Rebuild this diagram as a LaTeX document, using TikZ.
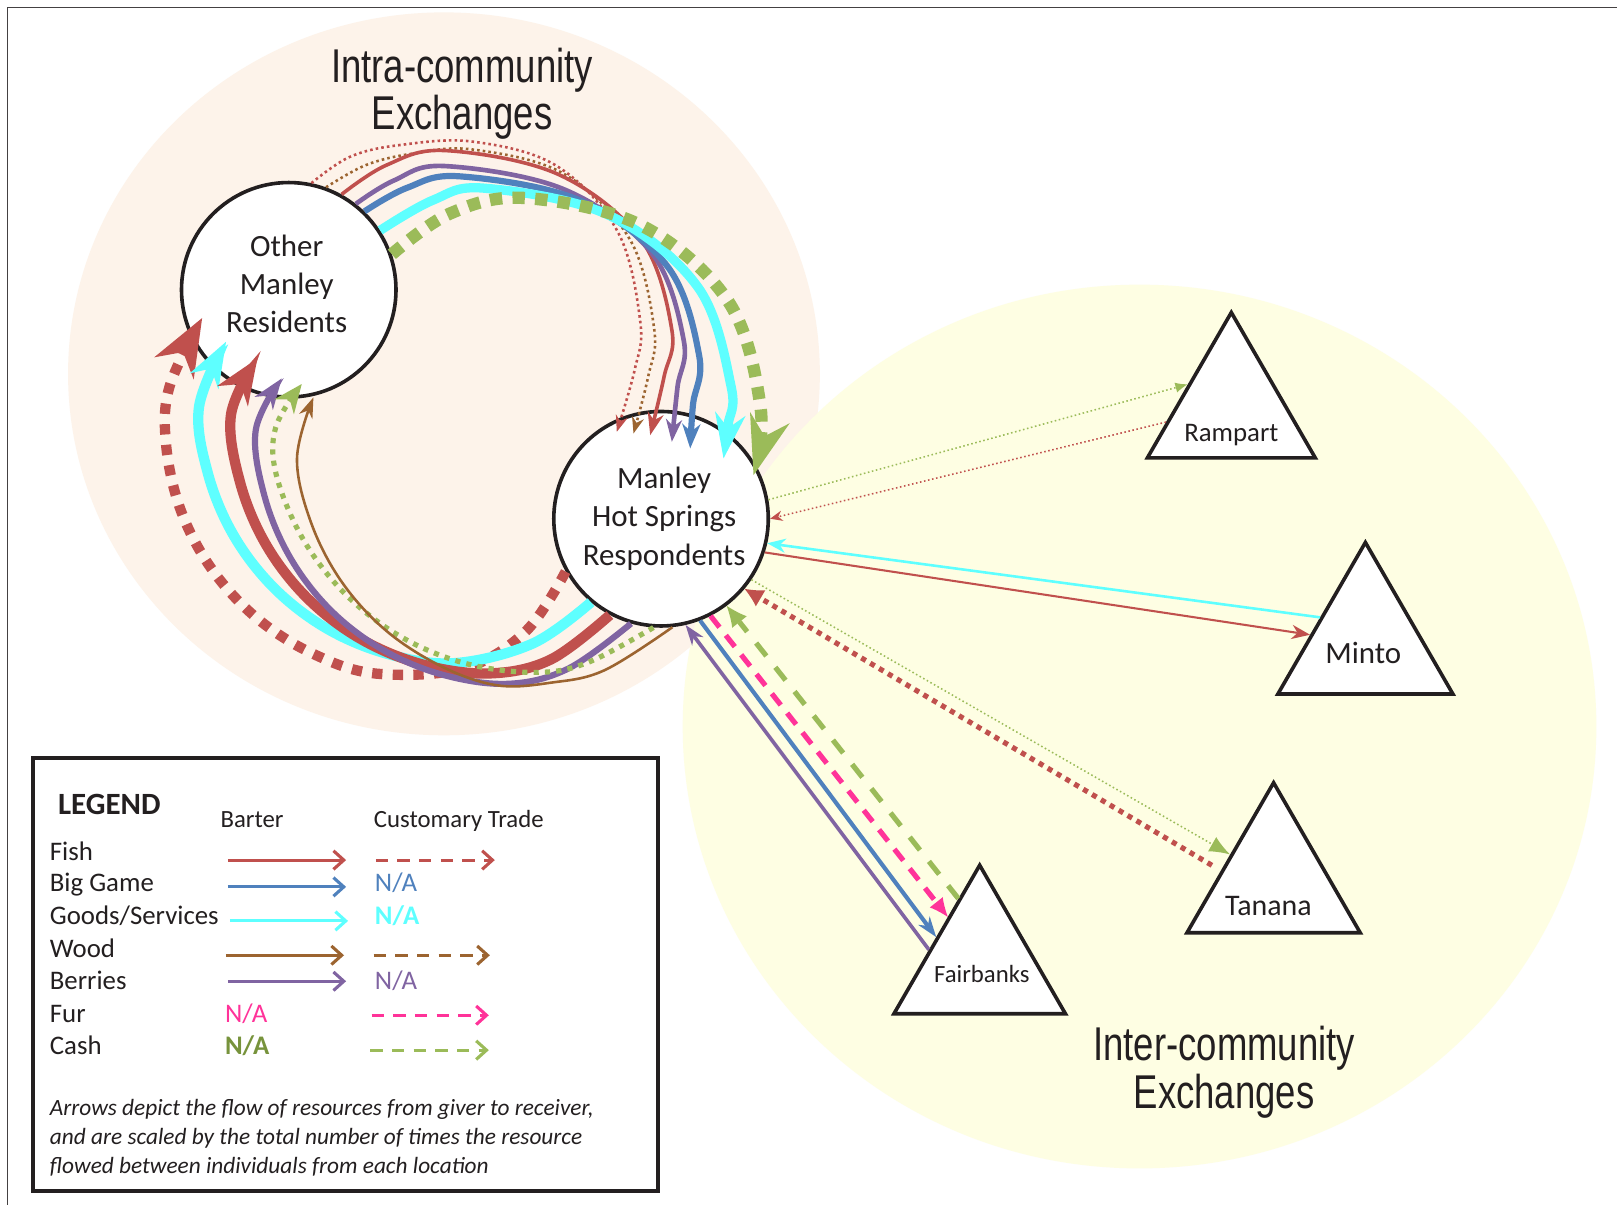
\documentclass[tikz,border=0pt]{standalone}
\usepackage{fontspec}
\usepackage{graphicx}
\setmainfont{Carlito}
\newfontfamily\titlefont{Liberation Sans}
\usetikzlibrary{arrows.meta,calc,shapes.geometric}
\definecolor{fishc}{HTML}{C0504D}
\definecolor{gamec}{HTML}{4F81BD}
\definecolor{goodc}{HTML}{5EFFFF}
\definecolor{woodc}{HTML}{9C6430}
\definecolor{berc}{HTML}{8064A2}
\definecolor{furc}{HTML}{FF3399}
\definecolor{cashc}{HTML}{9BBB59}
\definecolor{cashtxt}{HTML}{77933C}
\definecolor{peach}{HTML}{FDF3EA}
\definecolor{pyellow}{HTML}{FEFEE3}
\definecolor{ink}{HTML}{231F20}
\tikzset{
  place/.style={circle, draw=ink, line width=1.75pt, fill=white, minimum size=104pt, inner sep=0pt},
  ptext/.style={align=center, font=\fontsize{15}{18.5}\selectfont, text=ink, inner sep=0pt},
  tri/.style={regular polygon, regular polygon sides=3, draw=ink, line width=1.75pt, fill=white, inner sep=0pt},
  ttext/.style={text=ink, inner sep=0pt},
  ttl/.style={font=\titlefont\fontsize{23}{23}\selectfont, text=ink, inner sep=0pt, anchor=base},
  lab/.style={font=\fontsize{13}{13}\selectfont, text=ink, anchor=base west, inner sep=0pt},
  hdr/.style={font=\fontsize{12}{12}\selectfont, text=ink, anchor=base, inner sep=0pt},
  itl/.style={font=\itshape\fontsize{11.3}{11.3}\selectfont, text=ink, anchor=base west, inner sep=0pt},
  btr/.style={line width=1.5pt, -{Straight Barb[length=5pt,width=9pt]}},
  ctr/.style={btr, dash pattern=on 6pt off 4.5pt},
  fine/.style={line width=0.75pt, dash pattern=on 0.75pt off 1.25pt},
  arc/.style={smooth, tension=0.6},
}
\begin{document}
\begin{tikzpicture}[x=0.5pt,y=-0.5pt]
\useasboundingbox (0,0) rectangle (1568,1168);
\fill[white] (0,0) rectangle (1568,1168);
\draw[line width=0.6pt, ink!85] (7,1168) -- (7,7) -- (1568,7);
\fill[peach] (430.5,362.5) ellipse [x radius=182.25pt, y radius=175.25pt];
\fill[pyellow] (1105,704.5) ellipse [x radius=221.5pt, y radius=214.25pt];

\node[ttl] (intra1) at (448,80) {\scalebox{0.77}[1]{Intra-community}};
\node[ttl] (intra2) at (448,126) {\scalebox{0.77}[1]{Exchanges}};
\node[ttl] (inter1) at (1187,1028) {\scalebox{0.77}[1]{Inter-community}};
\node[ttl] (inter2) at (1187,1075) {\scalebox{0.77}[1]{Exchanges}};

\node[place] (omr) at (280,281) {};
\node[place] (mhs) at (641,503) {};
\node[ptext] (omrt) at (278,275) {Other\\Manley\\Residents};
\node[ptext] (mhst) at (644,503) {Manley\\Hot Springs\\Respondents};

\node[tri, minimum size=94pt] (ramp) at (1194,397) {};
\node[tri, minimum size=98pt] (minto) at (1324,624) {};
\node[tri, minimum size=97pt] (tanana) at (1235,856) {};
\node[tri, minimum size=96pt] (fair) at (950,935) {};
\node[ttext, font=\fontsize{13}{13}\selectfont] (rampt) at (1194,422) {Rampart};
\node[ttext, font=\fontsize{15}{15}\selectfont] (mintot) at (1322,633) {Minto};
\node[ttext, font=\fontsize{14.5}{14.5}\selectfont] (tanat) at (1230,879) {Tanana};
\node[ttext, font=\fontsize{12}{12}\selectfont] (fairt) at (952,944) {Fairbanks};

% end points of the curved arrows
\coordinate (u1e) at ($(mhs)+(-42.9,-84.3)$);
\coordinate (u2e) at ($(mhs)+(-26.7,-82.7)$);
\coordinate (u3e) at ($(mhs)+(-10.5,-81.1)$);
\coordinate (u4e) at ($(mhs)+(10.5,-74.6)$);
\coordinate (u5e) at ($(mhs)+(28.3,-68.2)$);
\coordinate (u6e) at ($(mhs)+(60.6,-58.5)$);
\coordinate (u7e) at ($(mhs)+(89.7,-42.3)$);
\coordinate (l1e) at ($(omr)+(-84,27.4)$);
\coordinate (l2e) at ($(omr)+(-60.8,50.4)$);
\coordinate (l3e) at ($(omr)+(-30.4,66.6)$);
\coordinate (l4e) at ($(omr)+(-6.8,86)$);
\coordinate (l5e) at ($(omr)+(12.6,91.4)$);
\coordinate (l6e) at ($(omr)+(23.9,104.4)$);

% upper arcs: Other Manley -> Manley Hot Springs
\draw[fishc, line width=1.25pt, dash pattern=on 1.25pt off 1.5pt, -{Stealth[length=8pt,width=6pt,line width=0pt]}]
  plot[arc] coordinates {(omr.78.7) (339.5,152) (388,140.6) (459,137.4) (540,161) (599.3,225.2) (621,313) (615.5,358.4) (u1e)};
\draw[woodc, line width=1.25pt, dash pattern=on 1.25pt off 1.5pt, -{Stealth[length=8pt,width=6pt,line width=0pt]}]
  plot[arc] coordinates {(omr.70.3) (355,160) (400,149) (458.5,145) (546.5,168.4) (611,232.5) (634.5,320) (628.5,365.3) (u2e)};
\draw[fishc, line width=1.75pt, -{Stealth[length=11pt,width=8pt,line width=0pt]}]
  plot[arc] coordinates {(omr.61.6) (375,160) (432,146) (541.8,169.3) (622.1,233) (651.5,320) (644,365) (u3e)};
\draw[berc, line width=2.25pt, -{Stealth[length=11pt,width=8pt,line width=0pt]}]
  plot[arc] coordinates {(omr.52.7) (382,175) (431,161) (547,183.6) (632,245.5) (663,330) (657,375) (u4e)};
\draw[gamec, line width=3pt, -{Stealth[length=12pt,width=9pt,line width=0pt]}]
  plot[arc] coordinates {(omr.46.2) (395,182) (446,171) (562,194.3) (647,258) (678,345) (672,392) (u5e)};
\draw[goodc, line width=4.5pt, -{Stealth[length=22pt,width=15pt,line width=0pt]}]
  plot[arc] coordinates {(omr.33.4) (420,194) (470,182.5) (589.5,208.3) (677,278.8) (709,375) (706,412) (u6e)};
\draw[cashc, line width=6pt, dash pattern=on 6pt off 5pt, -{Stealth[length=29pt,width=20pt,line width=0pt]}]
  plot[arc] coordinates {(omr.19.7) (436.5,207) (509,192) (623,219.2) (707,293.5) (737.5,395) (u7e)};

% lower arcs: Manley Hot Springs -> Other Manley
\draw[fishc, line width=5pt, dash pattern=on 5pt off 5pt, -{Stealth[length=28pt,width=22pt,line width=0pt]}]
  plot[arc] coordinates {(mhs.209.1) (510,612) (450,648) (364.9,653.2) (303.2,633.8) (248.6,599) (204.9,551.2) (174.9,493.8) (161,430.6) (164.4,374.8) (l1e)};
\draw[goodc, line width=5pt, -{Stealth[length=22pt,width=16pt,line width=0pt]}]
  plot[arc] coordinates {(mhs.230.4) (516.8,623.9) (441.6,643) (377.3,634.5) (317.3,609.7) (265.8,570.2) (226.3,518.7) (201.5,458.7) (193,394.4) (l2e)};
\draw[fishc, line width=5pt, -{Stealth[length=22pt,width=18pt,line width=0pt]}]
  plot[arc] coordinates {(mhs.242.3) (534.1,639.5) (475,653) (410,644.4) (349.5,619.4) (297.5,579.5) (257.6,527.5) (232.6,467) (224,402) (l3e)};
\draw[berc, line width=3pt, -{Stealth[length=15pt,width=11pt,line width=0pt]}]
  plot[arc] coordinates {(mhs.254.8) (551.5,648.1) (494,663) (430.3,654.6) (371,630) (320,591) (281,540) (256.4,480.7) (248,417) (l4e)};
\draw[cashc, line width=2.5pt, dash pattern=on 2.5pt off 3pt, -{Stealth[length=14pt,width=12pt,line width=0pt]}]
  plot[arc] coordinates {(mhs.266.5) (568.8,642.9) (518,652) (451,643.2) (388.5,617.3) (334.9,576.1) (293.7,522.5) (267.8,460) (267.4,414.3) (l5e)};
\draw[woodc, line width=1.25pt, -{Stealth[length=10pt,width=7pt,line width=0pt]}]
  plot[arc] coordinates {(mhs.276.6) (586,650) (534,662) (482.6,664.6) (429.6,646.9) (375.2,612.2) (331.7,564.7) (301.9,507.5) (288,444.5) (l6e)};

% inter-community arrows
\draw[cashc, fine, -{Latex[length=6pt,width=5pt]}] (mhs.10) -- (ramp.150.7);
\draw[fishc, fine, -{Stealth[length=6pt,width=5pt]}] (ramp.191.5) -- (mhs.0);
\draw[goodc, line width=1.25pt, -{Stealth[length=9pt,width=7pt,line width=0pt]}] (minto.150.3) -- (mhs.347);
\draw[fishc, line width=1pt, -{Stealth[length=9pt,width=7pt,line width=0pt]}] (mhs.342) -- (minto.171.6);
\draw[cashc, fine, -{Latex[length=10pt,width=8pt]}] (mhs.326.6) -- (tanana.147.6);
\draw[fishc, line width=2.5pt, dash pattern=on 2.5pt off 2.5pt, shorten <=5pt, -{Latex[length=9pt,width=9pt,line width=0pt]}] (tanana.167.4) -- (mhs.320.3);
\draw[berc, line width=1.75pt, -{Stealth[length=10pt,width=7pt,line width=0pt]}] (fair.164.4) -- (mhs.283.9);
\draw[gamec, line width=2pt, -{Stealth[length=10pt,width=7pt,line width=0pt]}] (mhs.291.2) -- (fair.148.8);
\draw[furc, line width=2.5pt, dash pattern=on 7pt off 5pt, -{Latex[length=9pt,width=8pt,line width=0pt]}] (mhs.297.5) -- (fair.124);
\draw[cashc, line width=2.5pt, dash pattern=on 8pt off 7pt, -{Latex[length=10pt,width=9pt,line width=0pt]}] (fair.108.7) -- (mhs.307);

% legend
\node[draw=ink, line width=1.75pt, fill=white, minimum width=303pt, minimum height=210pt, inner sep=0pt] (legend) at (335,945) {};
\node[font=\bfseries\fontsize{15}{15}\selectfont, text=ink, anchor=base west, inner sep=0pt] (lgt) at (56,789.5) {LEGEND};
\node[hdr] (hbar) at (244.4,802.6) {Barter};
\node[hdr] (hcus) at (444.9,802.6) {Customary Trade};
\node[lab] (rfish) at (48,834.1) {Fish};
\node[lab] (rgame) at (48,864.8) {Big Game};
\node[lab] (rgood) at (48,896.5) {Goods/Services};
\node[lab] (rwood) at (48,928) {Wood};
\node[lab] (rber) at (48,959.6) {Berries};
\node[lab] (rfur) at (48,991.9) {Fur};
\node[lab] (rcash) at (48,1022.9) {Cash};
\node[lab, text=gamec] (nagame) at (363.2,864.8) {N/A};
\node[lab, text=goodc, font=\bfseries\fontsize{13}{13}\selectfont] (nagood) at (363.2,896.5) {N/A};
\node[lab, text=berc] (naber) at (363.2,959.6) {N/A};
\node[lab, text=furc] (nafur) at (217.8,991.9) {N/A};
\node[lab, text=cashtxt, font=\bfseries\fontsize{13}{13}\selectfont] (nacash) at (217.8,1022.9) {N/A};
\draw[btr, fishc] (221,834) -- (335.6,834);
\draw[ctr, fishc] (364.4,834) -- (479.8,834);
\draw[btr, gamec] (221,860) -- (335.6,860);
\draw[btr, goodc] (223,893) -- (337.5,893);
\draw[btr, woodc] (219,926.3) -- (333.6,926.3);
\draw[ctr, woodc] (362.4,926.3) -- (475,926.3);
\draw[btr, berc] (221,951.5) -- (335.6,951.5);
\draw[ctr, furc] (360.4,984.5) -- (474,984.5);
\draw[ctr, cashc] (359.2,1018.3) -- (474,1018.3);
\node[itl] (note1) at (48,1081.5) {Arrows depict the flow of resources from giver to receiver,};
\node[itl] (note2) at (48,1110) {and are scaled by the total number of times the resource};
\node[itl] (note3) at (48,1137.5) {flowed between individuals from each location};
\end{tikzpicture}
\end{document}
